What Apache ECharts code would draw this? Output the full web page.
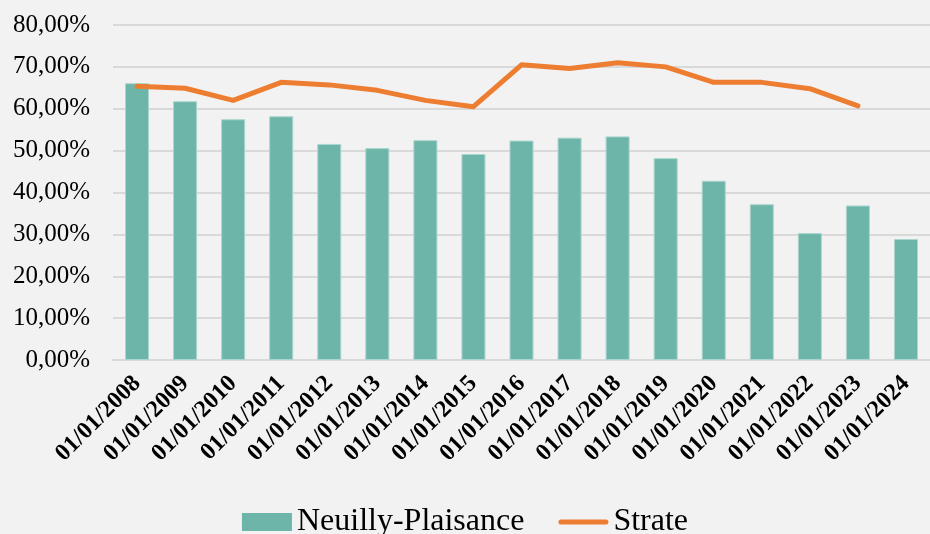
<!DOCTYPE html>
<html>
<head>
<meta charset="utf-8">
<script src="https://cdn.jsdelivr.net/npm/echarts@6/dist/echarts.min.js"></script>
<style>
  html, body { margin: 0; padding: 0; background: #F2F2F2; }
  #chart { width: 930px; height: 534px; }
</style>
</head>
<body>
<div id="chart"></div>
<script>
// données (en %)
var categories = ['01/01/2008', '01/01/2009', '01/01/2010', '01/01/2011', '01/01/2012', '01/01/2013',
  '01/01/2014', '01/01/2015', '01/01/2016', '01/01/2017', '01/01/2018', '01/01/2019',
  '01/01/2020', '01/01/2021', '01/01/2022', '01/01/2023', '01/01/2024']
var neuilly = [66.1, 61.8, 57.5, 58.2, 51.6, 50.6, 52.5, 49.2, 52.4, 53.1, 53.4, 48.2, 42.8, 37.2, 30.3, 36.9, 28.9]
var strate = [65.4, 64.9, 62.0, 66.3, 65.7, 64.4, 62.0, 60.5, 70.5, 69.6, 71.0, 70.0, 66.3, 66.3, 64.8, 60.7, null]
var yTicks = [0, 10, 20, 30, 40, 50, 60, 70, 80]

var font = '"Liberation Serif", "Times New Roman", serif'

var myChart = echarts.init(document.getElementById('chart'))
var option = {
  backgroundColor: '#F2F2F2',
  animation: false,
  grid: {
    left: 113,
    top: 25,
    bottom: 174,
    width: 821
  },
  legend: {
    top: 501,
    left: 'center',
    itemWidth: 50,
    itemHeight: 18,
    itemGap: 34,
    textStyle: { fontFamily: font, fontSize: 32, color: '#000' },
    data: [
      { name: 'Neuilly-Plaisance', icon: 'rect', itemStyle: { borderWidth: 0 } },
      // trait arrondi pour la courbe
      { name: 'Strate', icon: 'path://M2.5,0 H47.5 A2.5,2.5 0 0 1 47.5,5 H2.5 A2.5,2.5 0 0 1 2.5,0 Z' }
    ]
  },
  xAxis: {
    type: 'category',
    data: categories,
    axisTick: { show: false },
    axisLine: { lineStyle: { color: '#D9D9D9', width: 2 } },
    axisLabel: {
      rotate: 45,
      interval: 0,
      margin: 20,
      fontFamily: font,
      fontWeight: 'bold',
      fontSize: 24,
      color: '#000'
    }
  },
  yAxis: {
    type: 'value',
    min: yTicks[0],
    max: yTicks[yTicks.length - 1],
    interval: 10,
    axisLine: { show: false },
    axisTick: { show: false },
    splitLine: { lineStyle: { color: '#D9D9D9', width: 2 } },
    axisLabel: {
      margin: 23,
      fontFamily: font,
      fontSize: 25,
      color: '#000',
      formatter: function (v) {
        return v.toFixed(2).replace('.', ',') + '%'
      }
    }
  },
  series: [
    {
      name: 'Neuilly-Plaisance',
      type: 'bar',
      data: neuilly,
      barWidth: '50%',
      itemStyle: {
        color: '#6DB5A9',
        borderColor: '#A9D6CE',
        borderWidth: 1
      }
    },
    {
      name: 'Strate',
      type: 'line',
      data: strate,
      symbol: 'none',
      lineStyle: { color: '#ED7D31', width: 5, cap: 'round', join: 'round' },
      itemStyle: { color: '#ED7D31' }
    }
  ]
}

option && myChart.setOption(option)
</script>
</body>
</html>
